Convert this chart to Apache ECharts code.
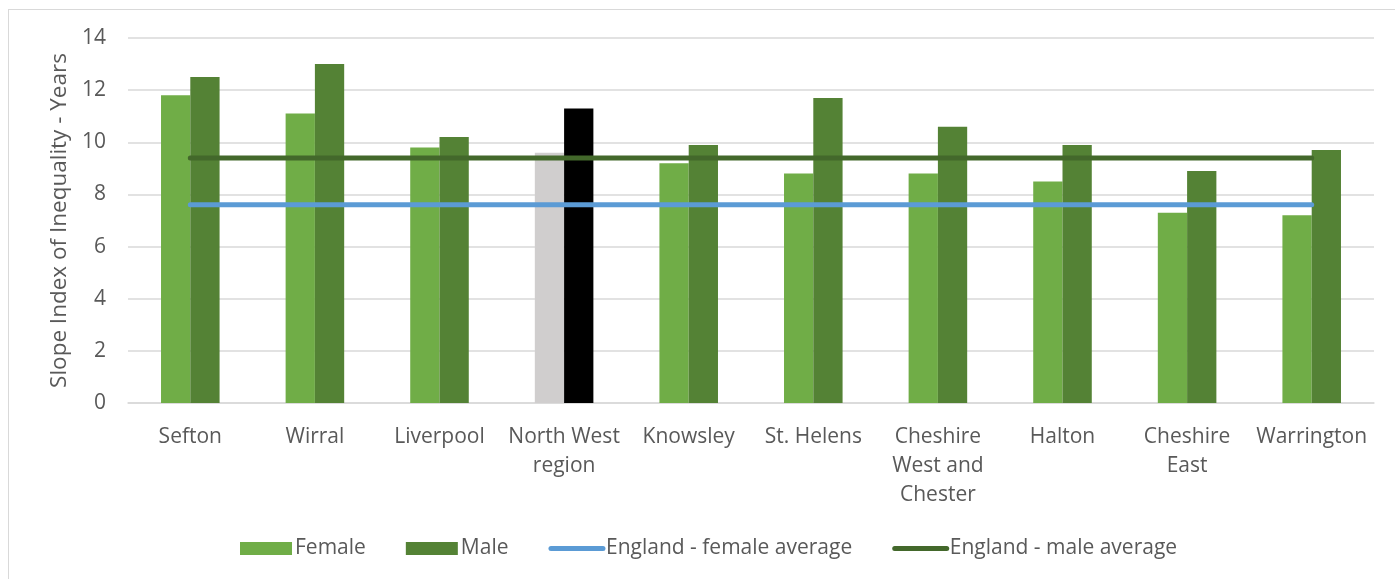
<!DOCTYPE html>
<html>
<head>
<meta charset="utf-8">
<script src="https://cdn.jsdelivr.net/npm/echarts@6/dist/echarts.min.js"></script>
<style>
  html, body { margin: 0; padding: 0; background: #fff; }
  #frame { position: absolute; left: 8px; top: 9px; width: 1400px; height: 600px; border: 1px solid #D9D9D9; }
  #chart { position: absolute; left: 0; top: 0; width: 1395px; height: 579px; }
</style>
</head>
<body>
<div id="frame"></div>
<div id="chart"></div>
<script>
// areas on the x axis
const areas = ['Sefton', 'Wirral', 'Liverpool', 'North West\nregion', 'Knowsley', 'St. Helens',
  'Cheshire\nWest and\nChester', 'Halton', 'Cheshire\nEast', 'Warrington']

// slope index of inequality, years
const female = [11.8, 11.1, 9.8, 9.6, 9.2, 8.8, 8.8, 8.5, 7.3, 7.2]
const male = [12.5, 13.0, 10.2, 11.3, 9.9, 11.7, 10.6, 9.9, 8.9, 9.7]

// England averages (one value per area so the line spans all)
const englandFemale = [7.6, 7.6, 7.6, 7.6, 7.6, 7.6, 7.6, 7.6, 7.6, 7.6]
const englandMale = [9.4, 9.4, 9.4, 9.4, 9.4, 9.4, 9.4, 9.4, 9.4, 9.4]

const regionIndex = 3
const font = 'Open Sans'
const textColor = '#595959'

const chart = echarts.init(document.getElementById('chart'))

// region bars are greyed out / black
const withRegion = (values, regionColor) =>
  values.map((v, i) => i === regionIndex ? { value: v, itemStyle: { color: regionColor } } : v)

chart.setOption({
  animation: false,
  textStyle: { fontFamily: font },
  grid: { left: 128, right: 21, top: 38, bottom: 176 },
  legend: {
    left: 235,
    top: 533,
    itemWidth: 52,
    itemHeight: 13,
    itemGap: 40,
    textStyle: { fontFamily: font, fontSize: 21, color: textColor, padding: [0, 0, 0, -2] },
    data: [
      { name: 'Female', icon: 'rect' },
      { name: 'Male', icon: 'rect' },
      // hide the symbol dot, keep a thick line
      { name: 'England - female average', itemStyle: { opacity: 0 }, lineStyle: { width: 5, cap: 'round' } },
      { name: 'England - male average', itemStyle: { opacity: 0 }, lineStyle: { width: 5, cap: 'round' } }
    ]
  },
  xAxis: {
    type: 'category',
    data: areas,
    axisTick: { show: false },
    axisLine: { lineStyle: { color: '#D9D9D9', width: 1.5 } },
    axisLabel: {
      interval: 0,
      margin: 20,
      fontSize: 21,
      lineHeight: 29,
      color: textColor,
      fontFamily: font
    }
  },
  yAxis: {
    type: 'value',
    min: 0,
    max: 14,
    interval: 2,
    name: 'Slope Index of Inequality - Years',
    nameLocation: 'middle',
    nameGap: 55,
    nameTextStyle: { fontSize: 22.5, color: textColor, fontFamily: font },
    axisLabel: { fontSize: 21, color: textColor, margin: 22, fontFamily: font },
    splitLine: { lineStyle: { color: '#D9D9D9', width: 1.5 } }
  },
  series: [
    {
      name: 'Female',
      type: 'bar',
      data: withRegion(female, '#D0CECE'),
      itemStyle: { color: '#70AD47' },
      barGap: '0%',
      barCategoryGap: '53%'
    },
    {
      name: 'Male',
      type: 'bar',
      data: withRegion(male, '#000000'),
      itemStyle: { color: '#548235' }
    },
    {
      name: 'England - female average',
      type: 'line',
      data: englandFemale,
      symbol: 'none',
      color: '#5B9BD5',
      lineStyle: { color: '#5B9BD5', width: 5, cap: 'round' },
      z: 5
    },
    {
      name: 'England - male average',
      type: 'line',
      data: englandMale,
      symbol: 'none',
      color: '#43682B',
      lineStyle: { color: '#43682B', width: 5, cap: 'round' },
      z: 5
    }
  ]
})
</script>
</body>
</html>
